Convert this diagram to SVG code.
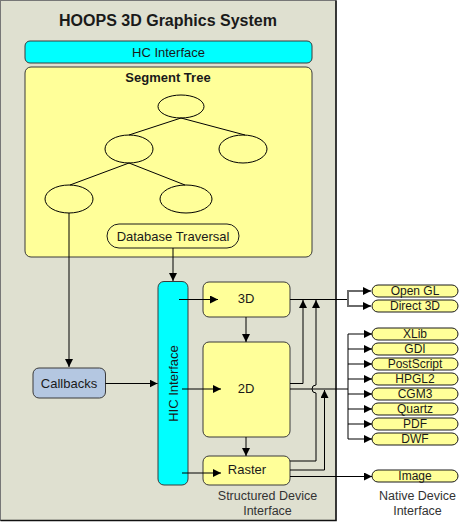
<svg xmlns="http://www.w3.org/2000/svg" width="461" height="522" viewBox="0 0 461 522">
<defs>
<marker id="ah" markerUnits="userSpaceOnUse" markerWidth="9" markerHeight="9" refX="8" refY="4" orient="auto">
<path d="M0,0 L8,4 L0,8 z" fill="#000"/>
</marker>
<style>
text{font-family:"Liberation Sans",Arial,sans-serif;fill:#1a1a1a;text-anchor:middle}
.t13{font-size:13px}
.t12{font-size:12px}
.b{font-weight:bold}
.cap{fill:#333;font-size:12.5px}
.box{fill:#FFFF99;stroke:#3a3a3a;stroke-width:1}
.cyan{fill:#00FFFF;stroke:#3a3a3a;stroke-width:1}
.blue{fill:#B4C7E1;stroke:#3a3a3a;stroke-width:1}
.pill{fill:#FFFF99;stroke:#1a1a1a;stroke-width:1}
.ell{fill:none;stroke:#000;stroke-width:1}
.ln{fill:none;stroke:#000;stroke-width:1}
.arr{fill:none;stroke:#000;stroke-width:1;marker-end:url(#ah)}
.garr{fill:none;stroke:#6a6a6a;stroke-width:2;marker-end:url(#ah)}
.gln{fill:none;stroke:#6a6a6a;stroke-width:2}
</style>
</defs>
<rect width="461" height="522" fill="#fff"/>
<g id="panel">
<rect x="0.5" y="0.5" width="335.5" height="520" fill="#DFE0D0" stroke="#777" stroke-width="1"/>
<path d="M336,0.5 V520.5 H0.5" fill="none" stroke="#111" stroke-width="1.5"/>
<text x="168" y="26" class="b" style="font-size:16px">HOOPS 3D Graphics System</text>
</g>
<g id="hc-interface">
<rect x="25" y="41" width="287" height="22" rx="5" class="cyan"/>
<text x="168.5" y="57" class="t13">HC Interface</text>
</g>
<g id="segment-tree">
<rect x="25" y="67" width="287" height="190" rx="6" class="box"/>
<text x="168" y="81.5" class="t13 b">Segment Tree</text>
</g>
<g id="tree">
<ellipse cx="181" cy="106.5" rx="23" ry="11.5" class="ell"/>
<ellipse cx="129" cy="149" rx="24" ry="14" class="ell"/>
<ellipse cx="243" cy="149" rx="24" ry="14" class="ell"/>
<ellipse cx="69" cy="199" rx="24" ry="14" class="ell"/>
<ellipse cx="186" cy="199" rx="26" ry="14" class="ell"/>
<path d="M181,118 L129,135 M181,118 L245,135 M129,163 L70,185 M129,163 L185,185" class="ln"/>
</g>
<g id="database-traversal">
<rect x="107" y="224" width="132" height="24" rx="12" class="box" style="stroke:#1a1a1a"/>
<text x="173" y="240.5" class="t13">Database Traversal</text>
</g>
<g id="callbacks">
<rect x="33" y="368" width="72.5" height="30" rx="6" class="blue"/>
<text x="69" y="387.5" class="t13">Callbacks</text>
</g>
<g id="hic-interface">
<rect x="158" y="281.5" width="30" height="203.5" rx="6" class="cyan"/>
<text transform="translate(178,383.5) rotate(-90)" class="t13">HIC Interface</text>
</g>
<g id="box-3d">
<rect x="203" y="282" width="87" height="35" rx="6" class="box"/>
<text x="246" y="303" class="t13">3D</text>
</g>
<g id="box-2d">
<rect x="203" y="342" width="87" height="95" rx="6" class="box"/>
<text x="246" y="393" class="t13">2D</text>
</g>
<g id="box-raster">
<rect x="203" y="456" width="87" height="29" rx="6" class="box"/>
<text x="247" y="474" class="t13">Raster</text>
</g>
<g id="labels">
<text x="267.5" y="500" class="cap">Structured Device</text>
<text x="267.5" y="514.5" class="cap">Interface</text>
<text x="417.5" y="500" class="cap">Native Device</text>
<text x="417.5" y="514.5" class="cap">Interface</text>
</g>
<g id="native-devices">
<rect x="372" y="285" width="86" height="12" rx="6" class="pill"/><text x="415" y="295" class="t12">Open GL</text>
<rect x="372" y="300" width="86" height="12" rx="6" class="pill"/><text x="415" y="310" class="t12">Direct 3D</text>
<rect x="372" y="328" width="86" height="12" rx="6" class="pill"/><text x="415" y="338" class="t12">XLib</text>
<rect x="372" y="343" width="86" height="12" rx="6" class="pill"/><text x="415" y="353" class="t12">GDI</text>
<rect x="372" y="358" width="86" height="12" rx="6" class="pill"/><text x="415" y="368" class="t12">PostScript</text>
<rect x="372" y="373" width="86" height="12" rx="6" class="pill"/><text x="415" y="383" class="t12">HPGL2</text>
<rect x="372" y="388" width="86" height="12" rx="6" class="pill"/><text x="415" y="398" class="t12">CGM3</text>
<rect x="372" y="403" width="86" height="12" rx="6" class="pill"/><text x="415" y="413" class="t12">Quartz</text>
<rect x="372" y="418" width="86" height="12" rx="6" class="pill"/><text x="415" y="428" class="t12">PDF</text>
<rect x="372" y="433" width="86" height="12" rx="6" class="pill"/><text x="415" y="443" class="t12">DWF</text>
<rect x="372" y="470" width="86" height="12" rx="6" class="pill"/><text x="415" y="480" class="t12">Image</text>
</g>
<g id="connectors">
<path d="M69,213 V367" class="arr"/>
<path d="M173,248 V281" class="arr"/>
<path d="M105.5,383.5 H157.5" class="arr"/>
<path d="M179,299.5 H218" class="arr"/>
<path d="M182,389 H221" class="arr"/>
<path d="M182,473 H221" class="arr"/>
<path d="M246,317 V342" class="arr"/>
<path d="M246,437 V456" class="arr"/>
<path d="M290,299.5 H348" class="ln"/>
<path d="M348,299.5 V291 M348,299.5 V306" class="gln"/>
<path d="M347,291 H371" class="garr"/>
<path d="M347,306 H371" class="garr"/>
<path d="M290,383.5 H303 V300" class="arr"/>
<path d="M290,461 H316 V393 A4,4 0 0,1 316,385 V300" class="arr"/>
<path d="M290,470 H324.5 V390" class="arr"/>
<path d="M290,389 H348" class="ln"/>
<path d="M348,334 V439" class="ln"/>
<path d="M348,334 H372" class="arr"/>
<path d="M348,349 H372" class="arr"/>
<path d="M348,364 H372" class="arr"/>
<path d="M348,379 H372" class="arr"/>
<path d="M348,394 H372" class="arr"/>
<path d="M348,409 H372" class="arr"/>
<path d="M348,424 H372" class="arr"/>
<path d="M348,439 H372" class="arr"/>
<path d="M290,476.5 H372" class="arr"/>
</g>
</svg>
